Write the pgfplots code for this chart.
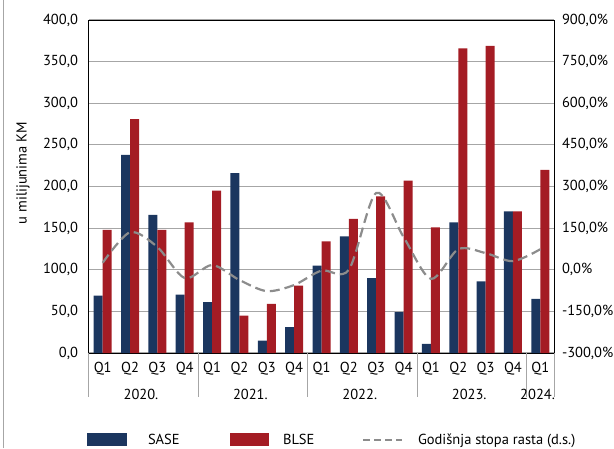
\documentclass[border=0pt]{standalone}
\usepackage{pgfplots}
\pgfplotsset{compat=1.18}
\usepackage{pgfplotstable}
\usepackage{fontspec}
\setmainfont{PT Sans}

\definecolor{sase}{HTML}{1B365F}
\definecolor{blse}{HTML}{A41C24}
\definecolor{gridc}{HTML}{A6A6A6}
\definecolor{ratec}{HTML}{8C8C8C}

% x: 0..16 = 2020 Q1 .. 2024 Q1
\pgfplotstableread{
x  sase blse rate
0   69  148   25
1  238  281  135
2  166  148   82
3   70  157  -30
4   61  195   17
5  216   45  -37
6   15   59  -77
7   31   81  -55
8  105  134   -3
9  140  161    0
10  90  188  277
11  49  207  118
12  11  151  -33
13 157  366   74
14  86  369   60
15 170  170   31
16  65  220   74
}\data

\begin{document}
\fontsize{14.5}{17}\selectfont
\begin{tikzpicture}[x=1pt,y=1pt]
\useasboundingbox (0,0) rectangle (614,448);
\draw[gridc, line width=1pt] (3,0) -- (3,448);

\begin{axis}[
    at={(89pt,95pt)}, anchor=south west,
    width=465pt, height=333pt, scale only axis,
    xmin=-0.5, xmax=16.5, ymin=0, ymax=400,
    ybar=0pt, bar width=9pt,
    ytick={0,50,...,400},
    xtick={0,...,16},
    xticklabels={Q1,Q2,Q3,Q4,Q1,Q2,Q3,Q4,Q1,Q2,Q3,Q4,Q1,Q2,Q3,Q4,Q1},
    xticklabel style={yshift=-4pt},
    yticklabel style={xshift=-6pt},
    major tick length=0pt,
    ymajorgrids,
    major grid style={gridc, line width=1.2pt},
    axis line style={black, line width=1pt},
    axis y line*=left,
    /pgf/number format/.cd, use comma, fixed, fixed zerofill, precision=1,
        1000 sep={}, assume math mode=true,
    /pgfplots/.cd,
    ylabel={u milijunima KM},
    every axis y label/.style={at={(axis description cs:-0.142,0.54)}, rotate=90, anchor=center},
    clip=false,
]
\addplot[fill=sase, draw=none] table[x=x, y=sase] {\data};
\addplot[fill=blse, draw=none] table[x=x, y=blse] {\data};
\draw[black, line width=1pt] (axis cs:-0.5,400) -- (axis cs:16.5,400);
\pgfplotsinvokeforeach{-0.5,3.5,7.5,11.5,15.5,16.5}{
  \draw[gridc, line width=1pt] (axis cs:#1,0) -- ++(0pt,-44pt);
}
\node at (axis cs:1.4,0) [yshift=-41pt] {2020.};
\node at (axis cs:5.4,0) [yshift=-41pt] {2021.};
\node at (axis cs:9.4,0) [yshift=-41pt] {2022.};
\node at (axis cs:13.4,0) [yshift=-41pt] {2023.};
\node at (axis cs:15.9,0) [yshift=-41pt] {2024.};
\end{axis}

\begin{axis}[
    at={(89pt,95pt)}, anchor=south west,
    width=465pt, height=333pt, scale only axis,
    xmin=-0.5, xmax=16.5, ymin=-300, ymax=900,
    axis y line*=right, axis x line=none,
    ytick={-300,-150,...,900},
    yticklabel={\pgfmathprintnumber{\tick}\%},
    yticklabel style={xshift=3pt},
    major tick length=0pt,
    axis line style={black, line width=1pt},
    /pgf/number format/.cd, use comma, fixed, fixed zerofill, precision=1,
        1000 sep={}, assume math mode=true,
    /pgfplots/.cd,
]
\addplot[ratec, line width=2.2pt, dash pattern=on 10pt off 5pt, smooth, tension=0.5]
  table[x=x, y=rate] {\data};
\end{axis}

% legend
\fill[sase] (87,2) rectangle (127,15);
\node[anchor=base west] at (143,4) {SASE};
\fill[blse] (230,2) rectangle (269,15);
\node[anchor=base west] at (278,4) {BLSE};
\draw[ratec, line width=2.2pt, dash pattern=on 7pt off 4pt] (363,8) -- (402,8);
\node[anchor=base west] at (413,4) {Godišnja stopa rasta (d.s.)};
\end{tikzpicture}
\end{document}
